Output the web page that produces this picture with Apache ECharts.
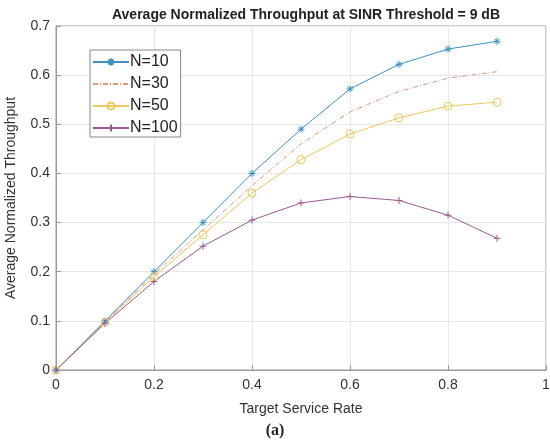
<!DOCTYPE html>
<html>
<head>
<meta charset="utf-8">
<script src="https://cdn.jsdelivr.net/npm/echarts@6/dist/echarts.min.js"></script>
<style>
  html, body { margin: 0; padding: 0; background: #fff; }
  #chart { width: 550px; height: 448px; }
</style>
</head>
<body>
<div id="chart"></div>
<script>
const myChart = echarts.init(document.getElementById('chart'));

const rates = [0, 0.1, 0.2, 0.3, 0.4, 0.5, 0.6, 0.7, 0.8, 0.9];
const n10 = [0, 0.1, 0.2, 0.3, 0.4, 0.49, 0.572, 0.622, 0.653, 0.669];
const n30 = [0, 0.098, 0.195, 0.285, 0.375, 0.46, 0.525, 0.567, 0.594, 0.607];
const n50 = [0, 0.097, 0.19, 0.275, 0.36, 0.428, 0.48, 0.513, 0.537, 0.545];
const n100 = [0, 0.095, 0.18, 0.252, 0.305, 0.34, 0.353, 0.345, 0.315, 0.268];

const pairs = (ys) => rates.map((x, i) => [x, ys[i]]);

const plusSym = 'path://M5,0L5,10M0,5L10,5';
const starSym = 'path://M5,0L5,10M0,5L10,5M1.5,1.5L8.5,8.5M1.5,8.5L8.5,1.5';

const font = 'Liberation Sans, Arial, sans-serif';

function line(name, data, color, opts) {
  return Object.assign({
    name: name,
    type: 'line',
    data: pairs(data),
    color: color,
    lineStyle: { color: color, width: 1 },
    itemStyle: { color: 'transparent', borderColor: color, borderWidth: 1 },
    symbolSize: 7,
    showSymbol: true,
    animation: false,
  }, opts);
}

const option = {
  title: {
    text: 'Average Normalized Throughput at SINR Threshold = 9 dB',
    left: 301,
    textAlign: 'center',
    top: 3,
    textStyle: { fontFamily: font, fontSize: 14, fontWeight: 'bold', color: '#222' },
  },
  legend: {
    orient: 'vertical',
    left: 90,
    top: 50,
    padding: [4, 3, 1, 2],
    itemGap: 6,
    itemWidth: 36,
    itemHeight: 9,
    borderColor: '#888',
    borderWidth: 1,
    backgroundColor: '#fff',
    textStyle: { fontFamily: font, fontSize: 16, color: '#222', padding: [0, 0, 0, -4] },
    data: [
      'N=10',
      { name: 'N=30', itemStyle: { color: 'transparent', borderWidth: 0, opacity: 0 } },
      'N=50',
      'N=100',
    ],
  },
  grid: {
    left: 56,
    right: 4,
    top: 26,
    bottom: 78,
    outerBoundsMode: 'none',
    show: true,
    borderColor: '#999',
    borderWidth: 1,
  },
  xAxis: {
    type: 'value',
    min: 0,
    max: 1,
    interval: 0.2,
    name: 'Target Service Rate',
    nameLocation: 'middle',
    nameGap: 32,
    nameTextStyle: { fontFamily: font, fontSize: 14, color: '#333' },
    axisLine: { lineStyle: { color: '#999' } },
    axisTick: { inside: true, length: 5, lineStyle: { color: '#999' } },
    axisLabel: { fontFamily: font, fontSize: 14, color: '#333', margin: 8 },
    splitLine: { lineStyle: { color: '#e8e8e8' } },
  },
  yAxis: {
    type: 'value',
    min: 0,
    max: 0.7,
    interval: 0.1,
    name: 'Average Normalized Throughput',
    nameLocation: 'middle',
    nameGap: 38,
    nameTextStyle: { fontFamily: font, fontSize: 14, color: '#333' },
    axisLine: { show: true, lineStyle: { color: '#999' } },
    axisTick: { show: true, inside: true, length: 5, lineStyle: { color: '#999' } },
    axisLabel: { fontFamily: font, fontSize: 14, color: '#333', margin: 6 },
    splitLine: { lineStyle: { color: '#e8e8e8' } },
  },
  graphic: [
    {
      type: 'text',
      left: 'center',
      top: 423,
      style: { text: '(a)', font: 'bold 16px "Liberation Serif", serif', fill: '#222' },
    },
  ],
  series: [
    line('N=10', n10, '#3f8fbf', { symbol: starSym, symbolSize: 7 }),
    line('N=30', n30, '#d99a80', { symbol: 'none', lineStyle: { color: '#d99a80', width: 1, type: [5, 2, 1, 2] } }),
    line('N=50', n50, '#ecc860', { symbol: 'circle', symbolSize: 8 }),
    line('N=100', n100, '#9a5a90', { symbol: plusSym, symbolSize: 7 }),
  ],
};

myChart.setOption(option);
</script>
</body>
</html>
